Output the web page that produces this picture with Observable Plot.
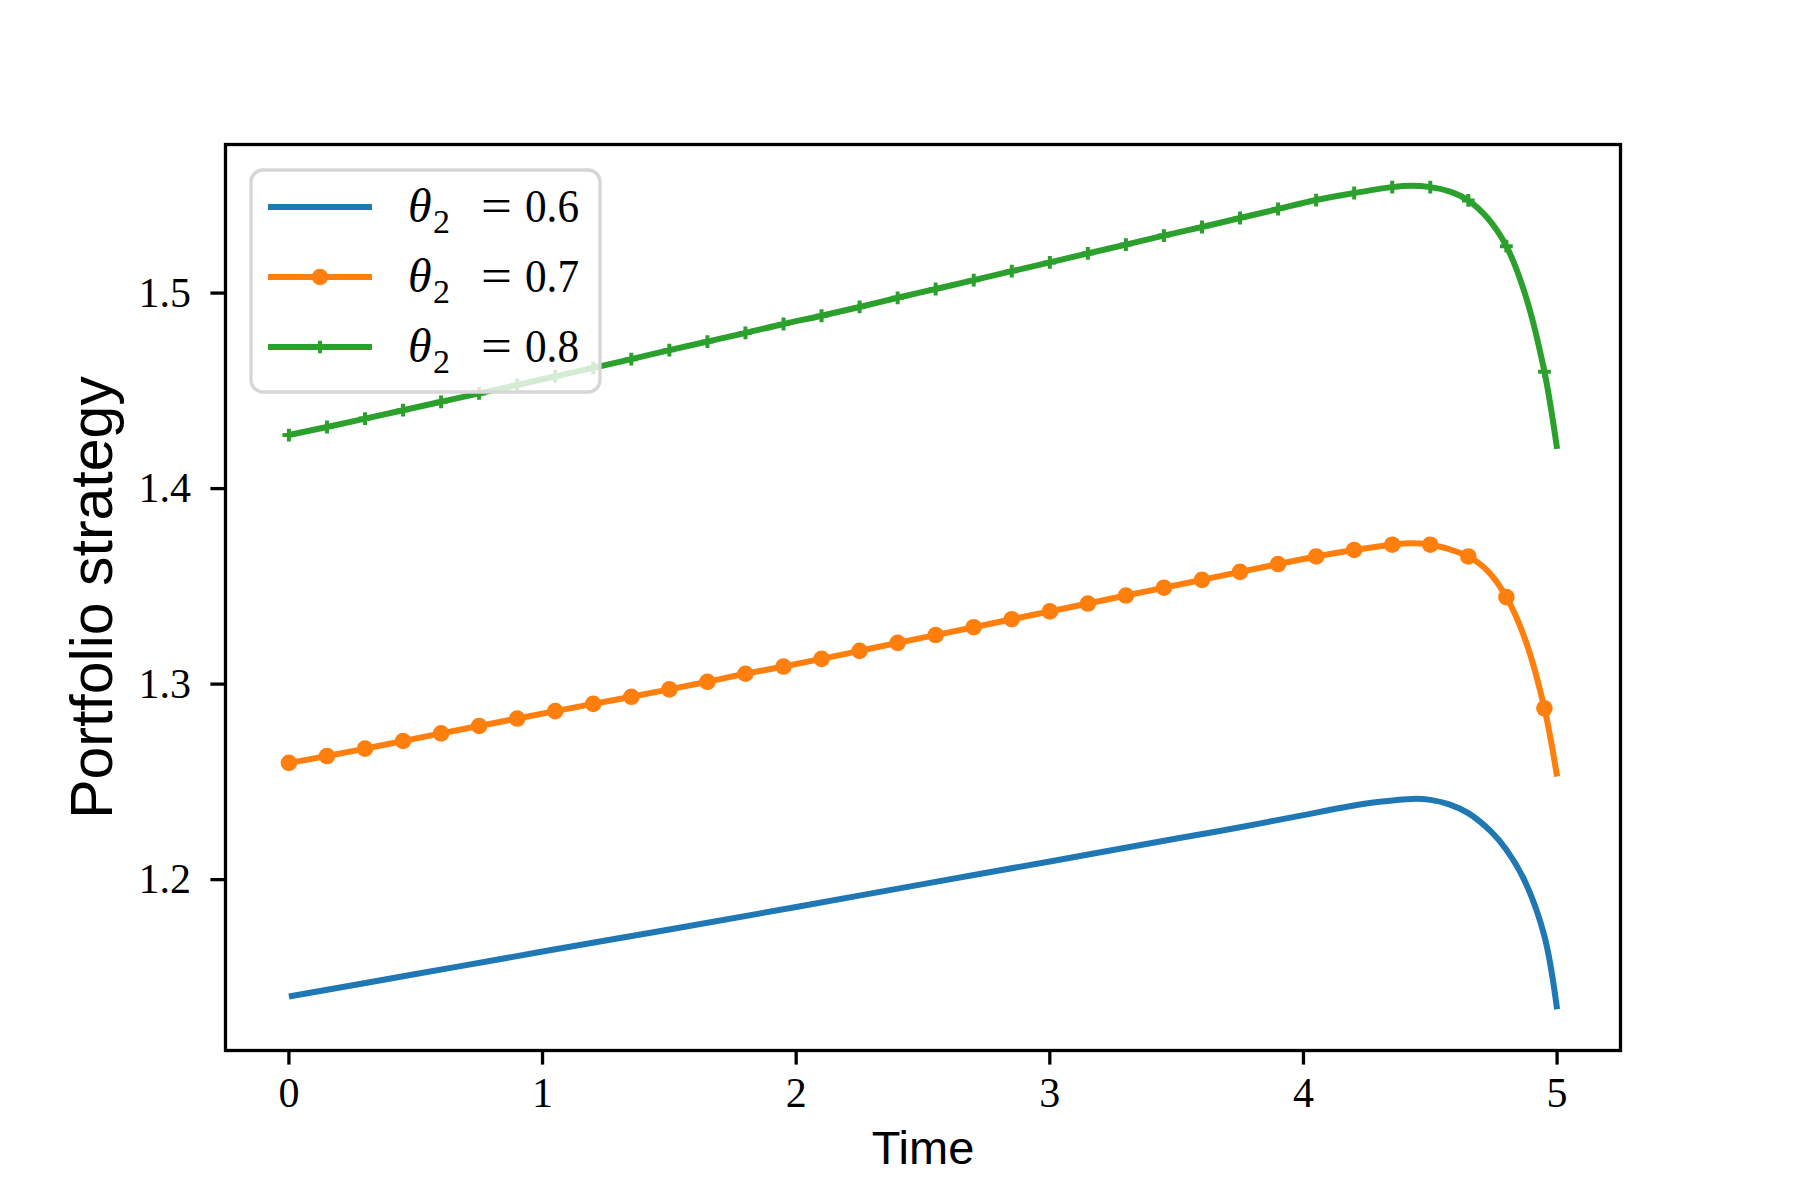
<!DOCTYPE html>
<html>
<head>
<meta charset="utf-8">
<script src="https://cdn.jsdelivr.net/npm/d3@7"></script>
<script src="https://cdn.jsdelivr.net/npm/@observablehq/plot@0.6"></script>
<style>
  html, body { margin: 0; padding: 0; background: white; }
  #wrap { position: relative; width: 1800px; height: 1200px; }
  #wrap svg { position: absolute; left: 0; top: 0; }
</style>
</head>
<body>
<div id="wrap"></div>
<script>
// ---- data ----
const seriesNames = ["θ2 = 0.6", "θ2 = 0.7", "θ2 = 0.8"];
const seriesValues = ["0.6", "0.7", "0.8"];
const seriesColors = ["#1f77b4", "#ff7f0e", "#2ca02c"];

const xTicks = [0, 1, 2, 3, 4, 5];
const yTicks = [1.2, 1.3, 1.4, 1.5];

// marker times (every 0.15)
const markerTimes = [0, 0.15, 0.3, 0.45, 0.6, 0.75, 0.9, 1.05, 1.2, 1.35, 1.5, 1.65, 1.8, 1.95,
  2.1, 2.25, 2.4, 2.55, 2.7, 2.85, 3.0, 3.15, 3.3, 3.45, 3.6, 3.75, 3.9, 4.05, 4.2, 4.35, 4.5,
  4.65, 4.8, 4.95];

// theta2 = 0.7 at marker times
const orangeMarkerValues = [1.2597, 1.2632, 1.2670, 1.2709, 1.2748, 1.2786, 1.2824, 1.2862,
  1.2899, 1.2935, 1.2973, 1.3012, 1.3053, 1.3090, 1.3129, 1.3170, 1.3211, 1.3251, 1.3291,
  1.3332, 1.3372, 1.3412, 1.3453, 1.3493, 1.3533, 1.3574, 1.3614, 1.3653, 1.3686, 1.3713,
  1.3713, 1.3653, 1.3445, 1.2876];
// extra points on the 0.7 curve near the end
const orangeExtraTimes = [4.425, 4.575, 4.725, 4.875, 5.0];
const orangeExtraValues = [1.3720, 1.3690, 1.3580, 1.3225, 1.2527];

// theta2 = 0.8 at marker times
const greenMarkerValues = [1.4274, 1.4315, 1.4358, 1.4401, 1.4444, 1.4487, 1.4530, 1.4574,
  1.4618, 1.4662, 1.4708, 1.4752, 1.4796, 1.4842, 1.4884, 1.4929, 1.4976, 1.5021, 1.5066,
  1.5112, 1.5157, 1.5203, 1.5248, 1.5294, 1.5338, 1.5384, 1.5430, 1.5476, 1.5512, 1.5542,
  1.5542, 1.5474, 1.5240, 1.4598];
const greenExtraTimes = [4.425, 4.575, 4.725, 4.875, 5.0];
const greenExtraValues = [1.5549, 1.5520, 1.5385, 1.4990, 1.4203];

// theta2 = 0.6 (line only)
const blueTimes = [0, 0.5, 1.0, 1.5, 2.0, 2.5, 3.0, 3.5, 3.75, 4.0, 4.15, 4.3, 4.43, 4.5,
  4.575, 4.65, 4.74, 4.8, 4.87, 4.95, 5.0];
const blueValues = [1.1402, 1.1517, 1.1632, 1.1745, 1.1860, 1.1977, 1.2093, 1.2210, 1.2268,
  1.2330, 1.2368, 1.2398, 1.2413, 1.2408, 1.2385, 1.2340, 1.2245, 1.2153, 1.2000, 1.1711,
  1.1337];

// ---- build tables ----
const zip = (ts, vs) => ts.map((t, i) => ({t, v: vs[i]}));
const blueLine = zip(blueTimes, blueValues);
const orangeMarkers = zip(markerTimes, orangeMarkerValues);
const greenMarkers = zip(markerTimes, greenMarkerValues);
const orangeLine = orangeMarkers.concat(zip(orangeExtraTimes, orangeExtraValues)).sort((a, b) => a.t - b.t);
const greenLine = greenMarkers.concat(zip(greenExtraTimes, greenExtraValues)).sort((a, b) => a.t - b.t);

const tickFont = "Liberation Serif";
const labelFont = "Liberation Sans";
const lw = 6;
const curve = "catmull-rom";

const plot = Plot.plot({
  width: 1800,
  height: 1200,
  marginLeft: 225,
  marginRight: 180,
  marginTop: 144,
  marginBottom: 150,
  style: {background: "white", color: "black", overflow: "visible"},
  x: {domain: [-0.25, 5.25]},
  y: {domain: [1.1126, 1.576]},
  marks: [
    Plot.line(blueLine, {x: "t", y: "v", stroke: seriesColors[0], strokeWidth: lw, curve, strokeLinecap: "butt"}),
    Plot.line(orangeLine, {x: "t", y: "v", stroke: seriesColors[1], strokeWidth: lw, curve, strokeLinecap: "butt"}),
    Plot.dot(orangeMarkers, {x: "t", y: "v", r: 8.3, fill: seriesColors[1], stroke: "none"}),
    Plot.line(greenLine, {x: "t", y: "v", stroke: seriesColors[2], strokeWidth: lw, curve, strokeLinecap: "butt"}),
    Plot.dot(greenMarkers, {x: "t", y: "v", r: 4.2, symbol: "plus", stroke: seriesColors[2], strokeWidth: 4}),
    Plot.frame({stroke: "black", strokeWidth: 3.3}),
    Plot.axisX({ticks: xTicks, tickSize: 14.6, tickPadding: 12, fontSize: 42, fontFamily: tickFont,
      strokeWidth: 3.3, tickFormat: d => String(d), label: null}),
    Plot.axisY({ticks: yTicks, tickSize: 14.6, tickPadding: 20, fontSize: 42, fontFamily: tickFont,
      strokeWidth: 3.3, tickFormat: d => d.toFixed(1), label: null}),
    Plot.text(["Time"], {text: d => d, frameAnchor: "bottom", dy: 113, fontSize: 47, fontFamily: labelFont, fill: "black"}),
    Plot.text(["Portfolio strategy"], {text: d => d, frameAnchor: "left", textAnchor: "middle", dx: -132, rotate: -90, fontSize: 59, fontFamily: labelFont, fill: "black"})
  ]
});
document.getElementById("wrap").appendChild(plot);

// ---- legend overlay (inside the axes, upper left) ----
const ns = "http://www.w3.org/2000/svg";
const leg = d3.select("#wrap").append("svg")
  .attr("xmlns", ns).attr("width", 1800).attr("height", 1200)
  .style("pointer-events", "none");
leg.append("rect")
  .attr("x", 251).attr("y", 170).attr("width", 349).attr("height", 222)
  .attr("rx", 12).attr("ry", 12)
  .attr("fill", "white").attr("fill-opacity", 0.8)
  .attr("stroke", "#d6d6d6").attr("stroke-width", 3.3);
const rowY = [207, 277, 347];
seriesValues.forEach((val, i) => {
  const y = rowY[i];
  leg.append("line").attr("x1", 268).attr("x2", 372).attr("y1", y).attr("y2", y)
    .attr("stroke", seriesColors[i]).attr("stroke-width", lw);
  if (i === 1) {
    leg.append("circle").attr("cx", 320).attr("cy", y).attr("r", 8.3).attr("fill", seriesColors[i]);
  }
  if (i === 2) {
    leg.append("path").attr("d", `M${320 - 6.3},${y}H${320 + 6.3}M320,${y - 6.3}V${y + 6.3}`)
      .attr("stroke", seriesColors[i]).attr("stroke-width", 4);
  }
  const g = leg.append("g").attr("font-family", tickFont).attr("fill", "black");
  g.append("text").attr("x", 408).attr("y", y + 15).attr("font-size", 48).attr("font-style", "italic").text("θ");
  g.append("text").attr("x", 433).attr("y", y + 26).attr("font-size", 34).text("2");
  g.append("text").attr("x", 481).attr("y", y + 15).attr("font-size", 48)
    .attr("textLength", 31).attr("lengthAdjust", "spacingAndGlyphs").text("=");
  g.append("text").attr("x", 525).attr("y", y + 15).attr("font-size", 46)
    .attr("textLength", 54).attr("lengthAdjust", "spacingAndGlyphs").text(val);
});
</script>
</body>
</html>
